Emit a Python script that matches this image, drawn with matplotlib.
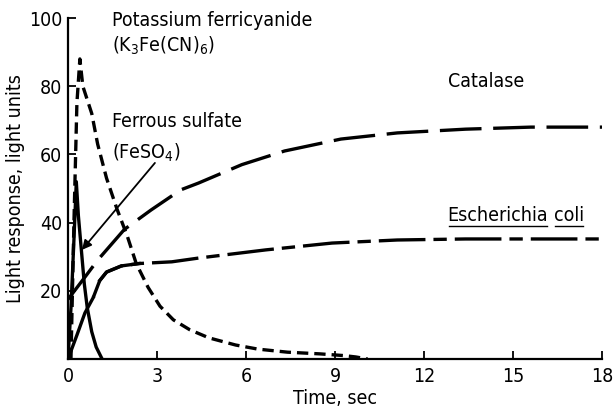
import matplotlib
matplotlib.use("Agg")
import matplotlib.pyplot as plt
import numpy as np

plt.rcParams['font.family'] = ['DejaVu Sans']
plt.rcParams['font.stretch'] = 'condensed'
plt.rcParams['mathtext.default'] = 'regular'

# ---- data ----
k3_t = [0.1, 0.2, 0.3, 0.4, 0.5, 0.8, 1.0, 1.3, 1.65, 2.0, 2.3, 2.7, 3.1, 3.55,
        4.1, 4.75, 5.65, 6.4, 7.4, 8.5, 9.3, 9.7, 10.1]
k3_y = [0, 40, 75, 88, 80, 72, 63, 53, 44, 36, 28, 21, 15.5, 11.5,
        8.6, 6.2, 4.1, 2.9, 2.0, 1.5, 1.0, 0.6, 0]

fe_t = [0, 0.1, 0.2, 0.28, 0.35, 0.45, 0.55, 0.65, 0.8, 0.95, 1.15]
fe_y = [0, 15, 35, 52, 42, 32, 22, 15, 8, 3.5, 0]

cat_t = [0, 0.57, 1.0, 1.9, 2.8, 3.8, 4.4, 5.86, 7.3, 9.2, 11.1, 13.4, 15.6, 18]
cat_y = [17.5, 24, 29, 38, 43.7, 49.6, 51.6, 57, 61, 64.5, 66.3, 67.4, 68, 68]

ec_t = [0, 0.3, 0.57, 0.85, 1.07, 1.3, 1.8, 2.4, 3.5, 4.4, 6.67, 8.9, 11.1, 13.4, 15.6, 18]
ec_y = [0, 7, 13.5, 18, 23, 25.5, 27.3, 28, 28.5, 29.6, 32, 34, 34.9, 35.2, 35.2, 35.2]

x_ticks = [0, 3, 6, 9, 12, 15, 18]
y_ticks = [20, 40, 60, 80, 100]

fig = plt.figure(figsize=(6.13, 4.12), dpi=100)
ax = fig.add_axes([68/613, 1-359/412, (602-68)/613, (359-18)/412])
ax.set_xlim(0, 18)
ax.set_ylim(0, 100)

lw = 2.4
# Potassium ferricyanide - short dashes
ax.plot(k3_t, k3_y, color='black', lw=lw, dashes=(3.4, 1.8))
# Ferrous sulfate - solid
ax.plot(fe_t, fe_y, color='black', lw=lw)
# Catalase - long dashes
ax.plot(cat_t, cat_y, color='black', lw=lw, dashes=(12.5, 3.5))
# Escherichia coli - long/short dashes, solid near start
ect = np.array(ec_t); ecy = np.array(ec_y)
m = ect >= 0.85
ax.plot(ect[m], ecy[m], color='black', lw=lw, dashes=(14, 2.4, 4, 2.4))
m1 = ect <= 0.85
ax.plot(ect[m1], ecy[m1], color='black', lw=lw)
m2 = (ect >= 1.07) & (ect <= 2.4)
ax.plot(ect[m2], ecy[m2], color='black', lw=lw)

# arrow from FeSO4 label to the ferrous sulfate curve
ax.annotate('', xy=(0.47, 32), xytext=(2.93, 57.5),
            arrowprops=dict(arrowstyle='-|>', color='black', lw=1.3,
                            mutation_scale=14, shrinkA=0, shrinkB=0))

fs = 14
ax.text(1.5, 99.4, 'Potassium ferricyanide', fontsize=fs, va='center', ha='left')
ax.text(1.5, 91.7, r'(K$_3$Fe(CN)$_6$)', fontsize=fs, va='center', ha='left')
ax.text(1.5, 69.6, 'Ferrous sulfate', fontsize=fs, va='center', ha='left')
ax.text(1.5, 60.5, r'(FeSO$_4$)', fontsize=fs, va='center', ha='left')
ax.text(12.8, 81.5, 'Catalase', fontsize=fs, va='center', ha='left')
t1 = ax.text(12.8, 42, 'Escherichia', fontsize=fs, va='center', ha='left')
fig.canvas.draw()
r = fig.canvas.get_renderer()
bb1 = t1.get_window_extent(r)
inv = ax.transData.inverted()
x_end = inv.transform((bb1.x1, bb1.y0))[0]
t2 = ax.text(x_end + 0.2, 42, 'coli', fontsize=fs, va='center', ha='left')
fig.canvas.draw()
bb2 = t2.get_window_extent(r)
for bb in (bb1, bb2):
    y0 = bb.y0 - 1
    p0 = fig.transFigure.inverted().transform((bb.x0 + 1, y0))
    p1 = fig.transFigure.inverted().transform((bb.x1 - 1, y0))
    fig.add_artist(plt.Line2D([p0[0], p1[0]], [p0[1], p1[1]], color='black', lw=1.0))

for s in ('top', 'right'):
    ax.spines[s].set_visible(False)
for s in ('left', 'bottom'):
    ax.spines[s].set_linewidth(1.6)

ax.set_xticks(x_ticks)
ax.set_yticks(y_ticks)
ax.tick_params(direction='in', length=6, width=1.3, labelsize=14, pad=4)
ax.tick_params(axis='x', pad=6)

ax.set_xlabel('Time, sec', fontsize=14, labelpad=2)
ax.set_ylabel('Light response, light units', fontsize=14, labelpad=3)

fig.savefig('out.png', dpi=100)
